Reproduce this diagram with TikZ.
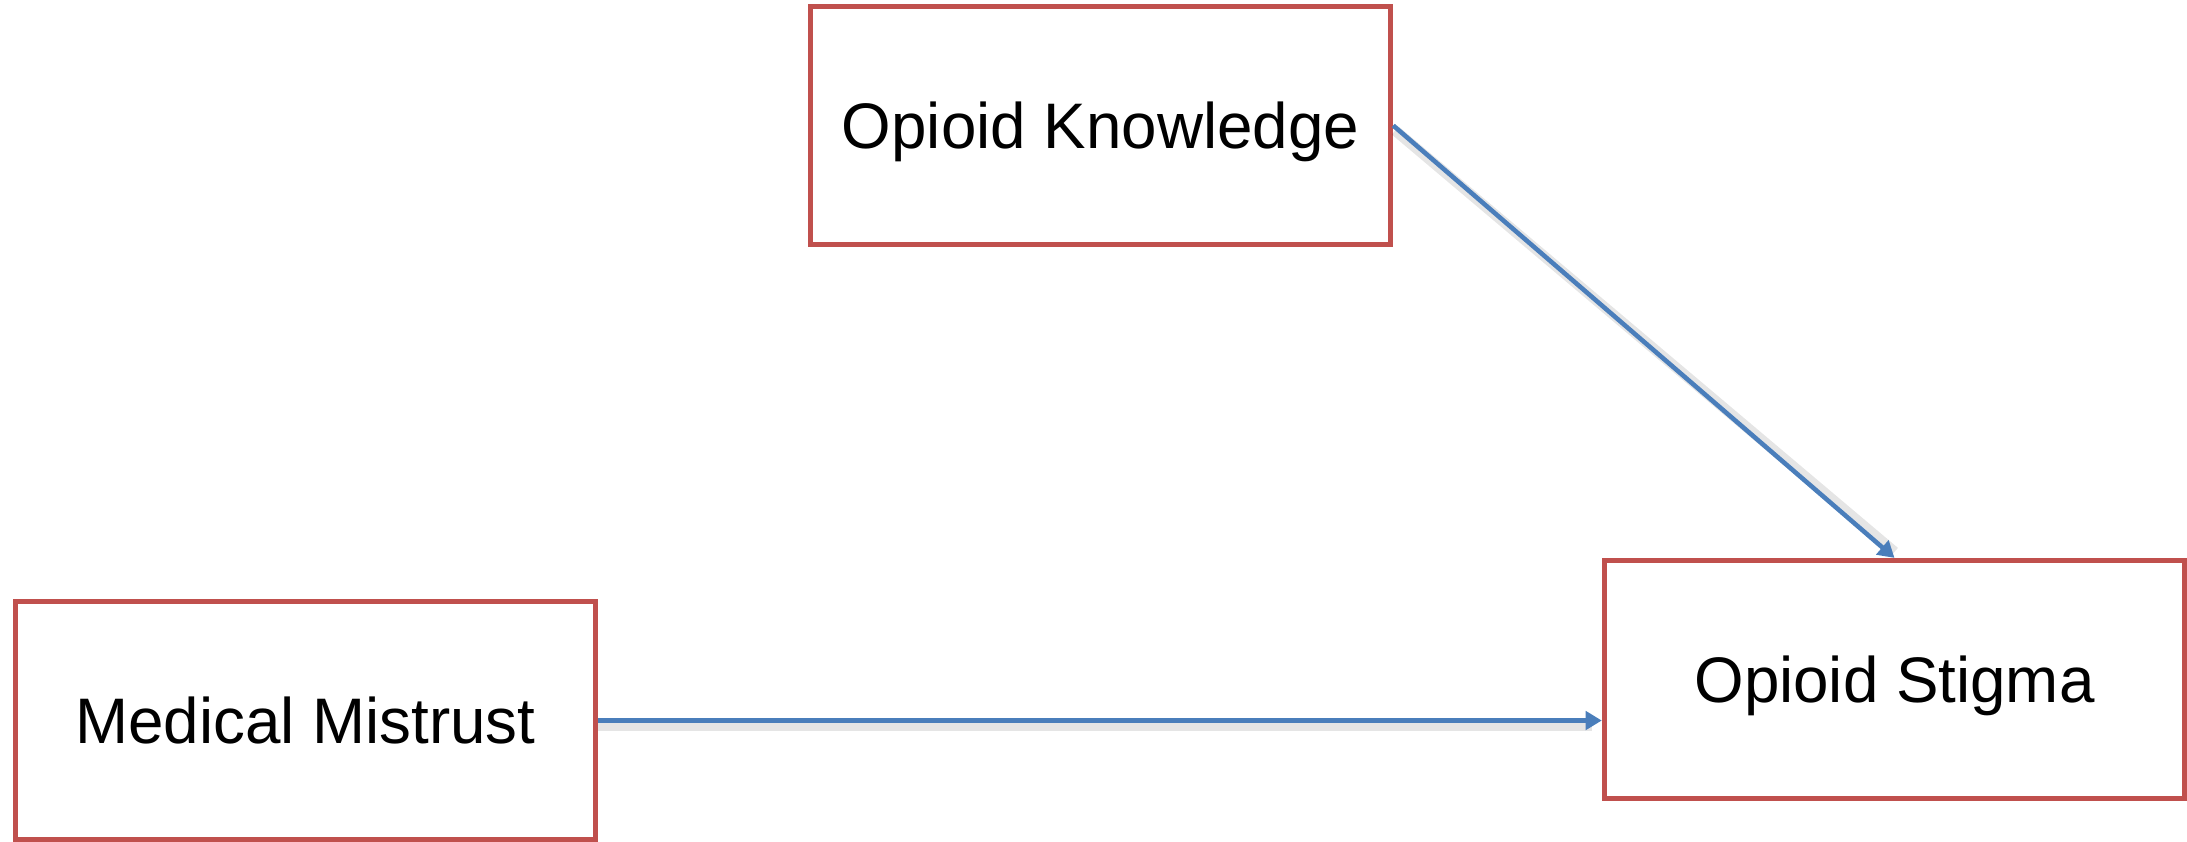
\documentclass[tikz,border=0pt]{standalone}
\usepackage{fontspec}
\setmainfont{Liberation Sans}
\usetikzlibrary{arrows.meta,calc}
\definecolor{boxred}{HTML}{C0504D}
\definecolor{linkblue}{HTML}{4A7EBB}
\begin{document}
\begin{tikzpicture}[x=0.01cm,y=-0.01cm,
  varbox/.style={draw=boxred,line width=1.45pt,fill=white,rectangle,
    minimum width=5.8cm,minimum height=2.38cm,inner sep=0pt,
    text height=13.1pt,text depth=0pt,
    font=\fontsize{18.3}{22}\selectfont\addfontfeature{FakeStretch=0.99}},
  link/.style={draw=linkblue,line width=1.3pt,
    -{Triangle[length=4.6pt,width=5.2pt]}},
  linkshade/.style={draw=black,opacity=0.10,line width=3pt}]
  \useasboundingbox (0,0) rectangle (2187,841);
  % variables
  \node[varbox] (ok) at (1100.5,125.5) {Opioid Knowledge};
  \node[varbox] (mm) at (305.5,720.5) {Medical Mistrust};
  \node[varbox] (os) at (1894.5,679.5) {Opioid Stigma};
  % soft shadows under the paths
  \draw[linkshade] ($(ok.east)+(2,5)$) -- ($(os.north)+(0,-6)$);
  \draw[linkshade] ($(mm.east)+(0,5)$) -- ($(mm.east -| os.west)+(-10,5)$);
  % paths
  \draw[link] (ok.east) -- (os.north);
  \draw[link] (mm.east) -- (mm.east -| os.west);
\end{tikzpicture}
\end{document}
